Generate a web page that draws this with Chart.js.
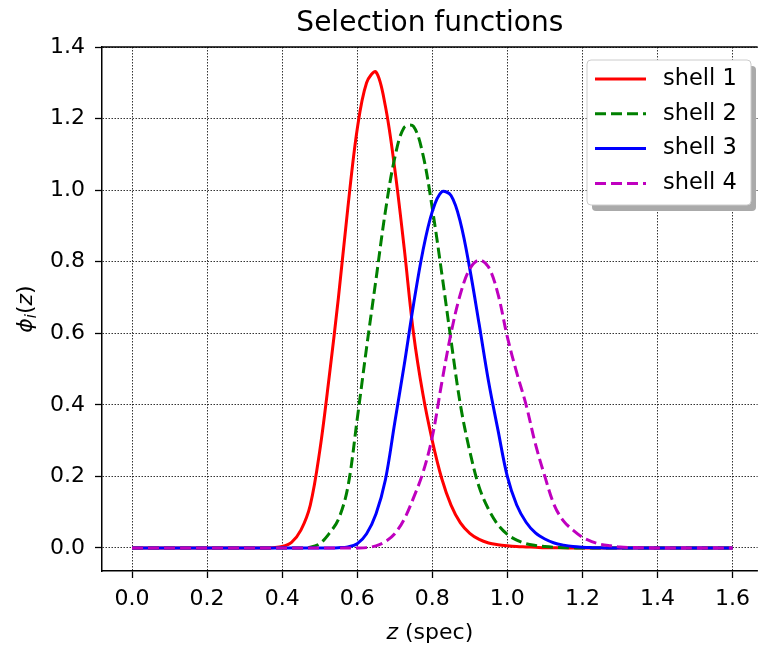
<!DOCTYPE html>
<html>
<head>
<meta charset="utf-8">
<script src="https://cdn.jsdelivr.net/npm/chart.js@4.4.0/dist/chart.umd.min.js"></script>
<style>
  html, body { margin: 0; padding: 0; background: #fff; overflow: hidden; }
  canvas { display: block; }
</style>
</head>
<body>
<canvas id="chart" width="758" height="648"></canvas>
<script>
// redshift grid (x values shared by all shells)
const zValues = [
  0, 0.025, 0.05, 0.075, 0.1, 0.125, 0.15, 0.175, 0.2, 0.225, 0.25, 0.275, 0.3, 0.325, 0.35, 0.375,
  0.4, 0.425, 0.45, 0.475, 0.5, 0.525, 0.55, 0.575, 0.6, 0.625, 0.65, 0.675, 0.7, 0.725, 0.75, 0.775,
  0.8, 0.825, 0.85, 0.875, 0.9, 0.925, 0.95, 0.975, 1.0, 1.025, 1.05, 1.075, 1.1, 1.125, 1.15, 1.175,
  1.2, 1.225, 1.25, 1.275, 1.3, 1.325, 1.35, 1.375, 1.4, 1.425, 1.45, 1.475, 1.5, 1.525, 1.55, 1.575, 1.6
];

const shell1 = [
  0, 0, 0, 0, 0, 0, 0, 0, 0, 0, 0, 0, 0, 0, 0, 0.001,
  0.004, 0.016, 0.05, 0.12, 0.27, 0.475, 0.70, 0.95, 1.17, 1.30, 1.33, 1.235, 1.06, 0.84, 0.60, 0.43,
  0.30, 0.195, 0.12, 0.07, 0.041, 0.024, 0.014, 0.009, 0.006, 0.004, 0.003, 0.002, 0.001, 0.0007, 0.0004, 0.0002,
  0, 0, 0, 0, 0, 0, 0, 0, 0, 0, 0, 0, 0, 0, 0, 0, 0
];

const shell2 = [
  0, 0, 0, 0, 0, 0, 0, 0, 0, 0, 0, 0, 0, 0, 0, 0,
  0, 0, 0, 0.002, 0.012, 0.04, 0.08, 0.17, 0.36, 0.56, 0.75, 0.94, 1.09, 1.175, 1.178, 1.10,
  0.95, 0.77, 0.58, 0.40, 0.27, 0.17, 0.108, 0.065, 0.038, 0.022, 0.012, 0.007, 0.004, 0.002, 0.001, 0.0005,
  0, 0, 0, 0, 0, 0, 0, 0, 0, 0, 0, 0, 0, 0, 0, 0, 0
];

const shell3 = [
  0, 0, 0, 0, 0, 0, 0, 0, 0, 0, 0, 0, 0, 0, 0, 0,
  0, 0, 0, 0, 0, 0, 0.0008, 0.003, 0.012, 0.04, 0.095, 0.19, 0.35, 0.51, 0.68, 0.83,
  0.94, 0.995, 0.985, 0.91, 0.78, 0.625, 0.465, 0.33, 0.20, 0.12, 0.072, 0.042, 0.025, 0.014, 0.008, 0.004,
  0.002, 0.001, 0.0005, 0, 0, 0, 0, 0, 0, 0, 0, 0, 0, 0, 0, 0, 0
];

const shell4 = [
  0, 0, 0, 0, 0, 0, 0, 0, 0, 0, 0, 0, 0, 0, 0, 0,
  0, 0, 0, 0, 0, 0, 0, 0, 0, 0.001, 0.006, 0.018, 0.04, 0.08, 0.14, 0.21,
  0.31, 0.46, 0.60, 0.71, 0.78, 0.805, 0.785, 0.71, 0.59, 0.49, 0.40, 0.29, 0.20, 0.12, 0.075, 0.05,
  0.03, 0.018, 0.01, 0.006, 0.003, 0.0015, 0.0008, 0.0004, 0, 0, 0, 0, 0, 0, 0, 0, 0
];

const seriesLabels = ["shell 1", "shell 2", "shell 3", "shell 4"];
const seriesColors = ["#ff0000", "#008000", "#0000ff", "#bf00bf"];
const xTicks = [0, 0.2, 0.4, 0.6, 0.8, 1.0, 1.2, 1.4, 1.6];
const yTicks = [0, 0.2, 0.4, 0.6, 0.8, 1.0, 1.2, 1.4];

const FONT = "DejaVu Sans";
const DASH = [11, 5];

const toPoints = (vals) => zValues.map((z, i) => ({ x: z, y: vals[i] }));

// draw a sequence of text runs (for italic / subscript math labels)
function drawRuns(ctx, runs, cx, baseY) {
  let total = 0;
  runs.forEach((r) => {
    ctx.font = r.font;
    r.w = ctx.measureText(r.text).width;
    total += r.w;
  });
  let x = cx - total / 2;
  ctx.textAlign = "left";
  ctx.textBaseline = "alphabetic";
  runs.forEach((r) => {
    ctx.font = r.font;
    ctx.fillText(r.text, x, baseY + (r.dy || 0));
    x += r.w;
  });
}

const decorPlugin = {
  id: "decor",
  afterDraw(chart) {
    const { ctx, chartArea: a } = chart;
    ctx.save();

    // top spine
    ctx.strokeStyle = "#000";
    ctx.lineWidth = 1.5;
    ctx.setLineDash([]);
    ctx.beginPath();
    ctx.moveTo(a.left, a.top);
    ctx.lineTo(a.right, a.top);
    ctx.stroke();

    // title
    ctx.fillStyle = "#000";
    ctx.font = `28px "${FONT}"`;
    ctx.textAlign = "center";
    ctx.textBaseline = "middle";
    ctx.fillText("Selection functions", (a.left + a.right) / 2, 24);

    // x axis label
    drawRuns(ctx, [
      { text: "z", font: `italic 22px "${FONT}"` },
      { text: " (spec)", font: `22px "${FONT}"` },
    ], (a.left + a.right) / 2, 639);

    // y axis label
    ctx.save();
    ctx.translate(24, (a.top + a.bottom) / 2);
    ctx.rotate(-Math.PI / 2);
    drawRuns(ctx, [
      { text: "\u03d5", font: `italic 22px "${FONT}"` },
      { text: "i", font: `italic 15px "${FONT}"`, dy: 4 },
      { text: "(", font: `22px "${FONT}"` },
      { text: "z", font: `italic 22px "${FONT}"` },
      { text: ")", font: `22px "${FONT}"` },
    ], 0, 8);
    ctx.restore();

    // legend box with shadow
    const bx = 587, by = 60, bw = 164, bh = 145, r = 4;
    const box = (x, y) => {
      ctx.beginPath();
      ctx.moveTo(x + r, y);
      ctx.lineTo(x + bw - r, y);
      ctx.quadraticCurveTo(x + bw, y, x + bw, y + r);
      ctx.lineTo(x + bw, y + bh - r);
      ctx.quadraticCurveTo(x + bw, y + bh, x + bw - r, y + bh);
      ctx.lineTo(x + r, y + bh);
      ctx.quadraticCurveTo(x, y + bh, x, y + bh - r);
      ctx.lineTo(x, y + r);
      ctx.quadraticCurveTo(x, y, x + r, y);
      ctx.closePath();
    };
    ctx.fillStyle = "#aaaaaa";
    box(bx + 5, by + 6);
    ctx.fill();
    ctx.fillStyle = "#ffffff";
    box(bx, by);
    ctx.fill();
    ctx.strokeStyle = "#cccccc";
    ctx.lineWidth = 1;
    ctx.stroke();

    chart.data.datasets.forEach((ds, i) => {
      const y = 79 + i * 34.8;
      ctx.strokeStyle = ds.borderColor;
      ctx.lineWidth = 3;
      ctx.setLineDash(ds.borderDash || []);
      ctx.beginPath();
      ctx.moveTo(595, y);
      ctx.lineTo(646, y);
      ctx.stroke();
      ctx.setLineDash([]);
      ctx.fillStyle = "#000";
      ctx.font = `22.5px "${FONT}"`;
      ctx.textAlign = "left";
      ctx.textBaseline = "middle";
      ctx.fillText(ds.label, 663, y);
    });

    ctx.restore();
  },
};

const shells = [shell1, shell2, shell3, shell4];

const datasets = shells.map((vals, i) => ({
  label: seriesLabels[i],
  data: toPoints(vals),
  borderColor: seriesColors[i],
  borderWidth: 3,
  borderDash: i % 2 === 1 ? DASH : [],
  pointRadius: 0,
  fill: false,
  tension: 0.35,
  order: shells.length - 1 - i, // later shells drawn on top
}));

const axisCommon = {
  grid: {
    color: "#000",
    lineWidth: 0.8,
    tickColor: "#000",
    tickLength: 7,
    tickWidth: 1.3,
    tickBorderDash: [],
  },
  border: { display: true, color: "#000", width: 1.5, dash: [1.5, 1.5] },
};

new Chart(document.getElementById("chart"), {
  type: "line",
  data: { datasets },
  options: {
    responsive: false,
    animation: false,
    devicePixelRatio: 1,
    layout: { padding: { top: 47, left: 0, right: 0, bottom: 0 } },
    plugins: {
      legend: { display: false },
      title: { display: false },
      tooltip: { enabled: false },
    },
    scales: {
      x: {
        type: "linear",
        min: -0.08,
        max: 1.667,
        afterBuildTicks: (s) => { s.ticks = xTicks.map((v) => ({ value: v })); },
        afterFit: (s) => { s.height = 77; },
        ticks: {
          font: { family: FONT, size: 22 },
          color: "#000",
          padding: 8,
          maxRotation: 0,
          autoSkip: false,
          callback: (v) => Number(v).toFixed(1),
        },
        ...axisCommon,
      },
      y: {
        type: "linear",
        min: -0.0643,
        max: 1.4,
        afterBuildTicks: (s) => { s.ticks = yTicks.map((v) => ({ value: v })); },
        afterFit: (s) => { s.width = 102; },
        ticks: {
          font: { family: FONT, size: 22 },
          color: "#000",
          padding: 10,
          autoSkip: false,
          callback: (v) => Number(v).toFixed(1),
        },
        ...axisCommon,
      },
    },
  },
  plugins: [decorPlugin],
});
</script>
</body>
</html>
